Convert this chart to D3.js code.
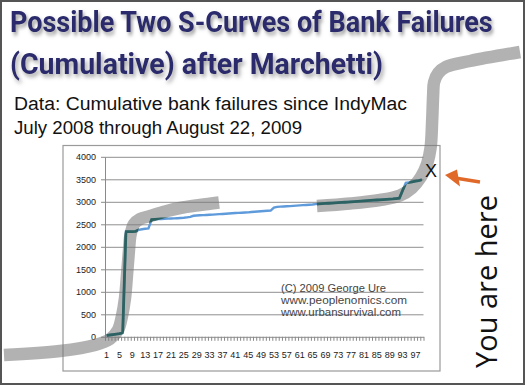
<!doctype html>
<html lang="en">
<head>
<meta charset="UTF-8" />
<title>Possible Two S-Curves of Bank Failures</title>
<style>
    body { margin: 0; background: #fff; }
    svg { display: block; }
    .tick text { font-family: 'Liberation Sans', Arial, sans-serif; font-size: 9px; fill: #222; }
    .axis path, .axis line { stroke: #8a8a8a; }
    .grid line { stroke: #8f8f8f; }
</style>
<script src="https://d3js.org/d3.v7.min.js"></script>
</head>
<body>
<div id="chart-container"></div>
<script>
    // report number (x axis categories)
    var reports = d3.range(1, 100);

    // cumulative bank failures
    var failures = [
        25, 40, 50, 60, 70, 85, 2337, 2337, 2337, 2345,
        2375, 2390, 2400, 2410, 2605, 2610, 2615, 2618, 2620, 2625,
        2628, 2632, 2636, 2640, 2645, 2655, 2665, 2690, 2696, 2700,
        2704, 2708, 2712, 2716, 2720, 2725, 2730, 2735, 2740, 2745,
        2750, 2754, 2758, 2762, 2766, 2772, 2778, 2784, 2790, 2795,
        2800, 2805, 2870, 2888, 2892, 2896, 2900, 2905, 2910, 2915,
        2920, 2925, 2930, 2935, 2940, 2948, 2955, 2960, 2964, 2968,
        2972, 2976, 2980, 2985, 2990, 2995, 3000, 3005, 3010, 3015,
        3020, 3025, 3030, 3035, 3040, 3045, 3050, 3055, 3060, 3065,
        3072, 3080, 3250, 3420, 3432, 3445, 3458, 3472, 3490
    ];

    var xLabels = [1, 5, 9, 13, 17, 21, 25, 29, 33, 37, 41, 45, 49, 53, 57, 61, 65, 69, 73, 77, 81, 85, 89, 93, 97];
    var yTicks = [0, 500, 1000, 1500, 2000, 2500, 3000, 3500, 4000];

    // hand drawn S-curves, [report, failures]
    var firstS = [
        [-30.9, -404], [-13.5, -316], [-2.6, -182], [2.05, -49], [4.54, 151],
        [5.78, 462], [6.72, 862], [7.34, 1373], [7.96, 1929], [8.43, 2262],
        [9.52, 2507], [11.38, 2618], [14.49, 2684], [19.15, 2784], [23.82, 2862],
        [30.03, 2929], [35.94, 2984]
    ];
    var secondS = [
        [66.4, 2907], [76.66, 2962], [85.98, 3040], [92.2, 3140], [95.9, 3307],
        [98.7, 3551], [100.6, 3840], [101.7, 4196], [102.2, 4818], [102.5, 5373],
        [102.8, 5662], [104.1, 5862], [106.5, 5996], [114.0, 6129], [129.5, 6329]
    ];

    var titleLines = ['Possible Two S-Curves of Bank Failures', '(Cumulative) after Marchetti)'];
    var subLines = ['Data:  Cumulative bank failures since IndyMac', 'July 2008 through August 22, 2009'];
    var creditLines = ['(C) 2009 George Ure', 'www.peoplenomics.com', 'www.urbansurvival.com'];

    var W = 525, H = 385;
    var plot = { left: 105, right: 423.5, top: 156.8, bottom: 336.8 };

    var svg = d3.select('#chart-container').append('svg')
        .attr('width', W).attr('height', H);

    var defs = svg.append('defs');
    var shadow = defs.append('filter').attr('id', 'shadow')
        .attr('x', '-5%').attr('y', '-20%').attr('width', '115%').attr('height', '160%');
    shadow.append('feDropShadow')
        .attr('dx', 2).attr('dy', 3).attr('stdDeviation', 2)
        .attr('flood-color', '#777').attr('flood-opacity', 0.7);

    // outer frame
    svg.append('rect')
        .attr('x', 1).attr('y', 1).attr('width', W - 2).attr('height', H - 2)
        .attr('fill', '#fff').attr('stroke', '#555').attr('stroke-width', 2);

    // chart area box
    svg.append('rect')
        .attr('x', 63).attr('y', 145.5).attr('width', 377).attr('height', 225.5)
        .attr('fill', '#fff').attr('stroke', '#9a9a9a').attr('stroke-width', 1.2);

    var x = d3.scaleBand().domain(reports).range([plot.left, plot.right]);
    var xLin = d3.scaleLinear().domain([0.5, 99.5]).range([plot.left, plot.right]);
    var y = d3.scaleLinear().domain([0, 4000]).range([plot.bottom, plot.top]);

    // gridlines
    svg.append('g')
        .attr('class', 'grid')
        .attr('transform', 'translate(' + plot.left + ',0)')
        .call(d3.axisLeft(y).tickValues(yTicks.slice(1)).tickSize(-(plot.right - plot.left)).tickFormat(''))
        .call(function (g) { g.select('.domain').remove(); });

    // y axis
    svg.append('g')
        .attr('class', 'axis')
        .attr('transform', 'translate(' + plot.left + ',0)')
        .call(d3.axisLeft(y).tickValues(yTicks).tickFormat(d3.format('d'))
            .tickSize(4).tickSizeOuter(0).tickPadding(5));

    // x axis: a tick between every report, labels every 4th
    svg.append('g')
        .attr('class', 'axis')
        .attr('transform', 'translate(0,' + plot.bottom + ')')
        .call(d3.axisBottom(xLin).tickValues(d3.range(0.5, 100, 1)).tickSize(4).tickSizeOuter(0).tickFormat(''));

    svg.append('g')
        .attr('class', 'axis')
        .attr('transform', 'translate(0,' + plot.bottom + ')')
        .call(d3.axisBottom(x).tickValues(xLabels).tickSize(0).tickPadding(14.5))
        .call(function (g) { g.select('.domain').remove(); });

    var line = d3.line()
        .x(function (d, i) { return x(reports[i]) + x.bandwidth() / 2; })
        .y(function (d) { return y(d); });

    var swoosh = d3.line()
        .x(function (d) { return xLin(d[0]); })
        .y(function (d) { return y(d[1]); })
        .curve(d3.curveCatmullRom.alpha(0.5));

    // mask: where the line runs under the gray curves it shows darker
    var mask = defs.append('mask').attr('id', 'under')
        .attr('maskUnits', 'userSpaceOnUse')
        .attr('x', 0).attr('y', 0).attr('width', W).attr('height', H);
    [firstS, secondS].forEach(function (s) {
        mask.append('path').attr('d', swoosh(s))
            .attr('fill', 'none').attr('stroke', '#fff').attr('stroke-width', 12.5);
    });

    svg.append('path')
        .datum(failures)
        .attr('d', line)
        .attr('fill', 'none')
        .attr('stroke', '#5f9bdb')
        .attr('stroke-width', 2.4);

    [firstS, secondS].forEach(function (s) {
        svg.append('path')
            .attr('d', swoosh(s))
            .attr('fill', 'none')
            .attr('stroke', '#7a7a7a')
            .attr('stroke-opacity', 0.58)
            .attr('stroke-width', 12.5);
    });

    svg.append('path')
        .datum(failures)
        .attr('d', line)
        .attr('fill', 'none')
        .attr('stroke', '#2c6362')
        .attr('stroke-width', 2.8)
        .attr('mask', 'url(#under)');

    // "X" marks the latest point
    svg.append('text')
        .attr('x', xLin(101.8)).attr('y', y(3562))
        .attr('text-anchor', 'middle')
        .attr('font-family', 'Liberation Sans, Arial, sans-serif')
        .attr('font-size', 18)
        .attr('fill', '#111')
        .text('X');

    // orange arrow pointing at it
    svg.append('line')
        .attr('x1', 480).attr('y1', 182).attr('x2', 455).attr('y2', 178)
        .attr('stroke', '#e0692a').attr('stroke-width', 3.5);
    svg.append('path')
        .attr('d', 'M445,175 L457,169.5 L460,186.5 Z')
        .attr('fill', '#e0692a');

    // titles, squeezed horizontally to the width of the original lettering
    var titleWidths = [483, 373];
    svg.selectAll('.title')
        .data(titleLines)
        .enter()
        .append('text')
        .attr('class', 'title')
        .attr('font-family', 'Roboto, sans-serif')
        .attr('font-weight', 700)
        .attr('font-size', 29.5)
        .attr('fill', '#2a2c6c')
        .attr('filter', 'url(#shadow)')
        .text(function (d) { return d; })
        .attr('transform', function (d, i) {
            var w = this.getComputedTextLength();
            return 'translate(10,' + (31.5 + i * 42) + ') scale(' + (titleWidths[i] / w) + ',1)';
        });

    svg.selectAll('.sub')
        .data(subLines)
        .enter()
        .append('text')
        .attr('class', 'sub')
        .attr('x', 14)
        .attr('y', function (d, i) { return 110 + i * 23.5; })
        .attr('textLength', function (d, i) { return i === 0 ? 393 : 288; })
        .attr('lengthAdjust', 'spacingAndGlyphs')
        .attr('font-family', 'Liberation Sans, Arial, sans-serif')
        .attr('font-size', 18)
        .attr('fill', '#111')
        .text(function (d) { return d; });

    svg.selectAll('.credit')
        .data(creditLines)
        .enter()
        .append('text')
        .attr('class', 'credit')
        .attr('x', 281)
        .attr('y', function (d, i) { return 292 + i * 12; })
        .attr('textLength', function (d, i) { return [105, 126, 120][i]; })
        .attr('lengthAdjust', 'spacingAndGlyphs')
        .attr('font-family', 'Liberation Sans, Arial, sans-serif')
        .attr('font-size', 10.5)
        .attr('fill', '#444')
        .text(function (d) { return d; });

    svg.append('text')
        .attr('transform', 'translate(497,368) rotate(-90)')
        .attr('textLength', 173)
        .attr('lengthAdjust', 'spacingAndGlyphs')
        .attr('font-family', 'Open Sans, sans-serif')
        .attr('font-weight', 500)
        .attr('font-size', 29)
        .attr('fill', '#111')
        .text('You are here');
</script>
</body>
</html>
